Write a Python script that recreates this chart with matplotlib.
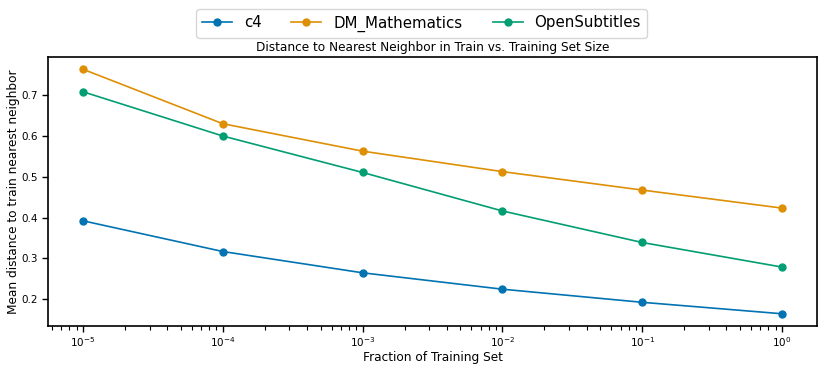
import matplotlib
matplotlib.use("Agg")
import matplotlib.pyplot as plt

fractions = [1e-5, 1e-4, 1e-3, 1e-2, 1e-1, 1e0]
c4 = [0.392, 0.317, 0.265, 0.225, 0.193, 0.165]
dm_math = [0.762, 0.629, 0.562, 0.512, 0.467, 0.423]
open_subs = [0.707, 0.599, 0.510, 0.416, 0.339, 0.279]
series_names = ["c4", "DM_Mathematics", "OpenSubtitles"]
colors = ["#0173b2", "#de8f05", "#029e73"]

plt.rcParams.update({
    "font.family": "DejaVu Sans",
    "xtick.major.size": 4.5, "ytick.major.size": 4.5,
    "xtick.minor.size": 3.0, "ytick.minor.size": 3.0,
    "xtick.major.width": 1.0, "xtick.minor.width": 0.8,
    "ytick.major.width": 1.0,
    "xtick.major.pad": 2.0, "ytick.major.pad": 2.5,
    "axes.linewidth": 1.2,
})

fig = plt.figure(figsize=(8.31, 3.70), dpi=100)
ax = fig.add_axes([48/831, 1 - 326/370, (817-48)/831, (326-57)/370])

for name, vals, col in zip(series_names, [c4, dm_math, open_subs], colors):
    ax.plot(fractions, vals, marker="o", markersize=5, linewidth=1.2, color=col, label=name)

ax.set_xscale("log")
ax.tick_params(axis="both", labelsize=7.5)
ax.set_xlabel("Fraction of Training Set", fontsize=8.7)
ax.set_ylabel("Mean distance to train nearest neighbor", fontsize=8.7)
ax.xaxis.set_label_coords(0.5, -0.092)
ax.yaxis.set_label_coords(-0.037, 0.5)
ax.set_title("Distance to Nearest Neighbor in Train vs. Training Set Size", fontsize=8.7, pad=4)

fig.legend(loc="upper center", bbox_to_anchor=(0.507, 0.995), ncol=3, fontsize=10.8, frameon=True,
           handlelength=2.0, columnspacing=2.0)

fig.savefig("out.png", dpi=100)
